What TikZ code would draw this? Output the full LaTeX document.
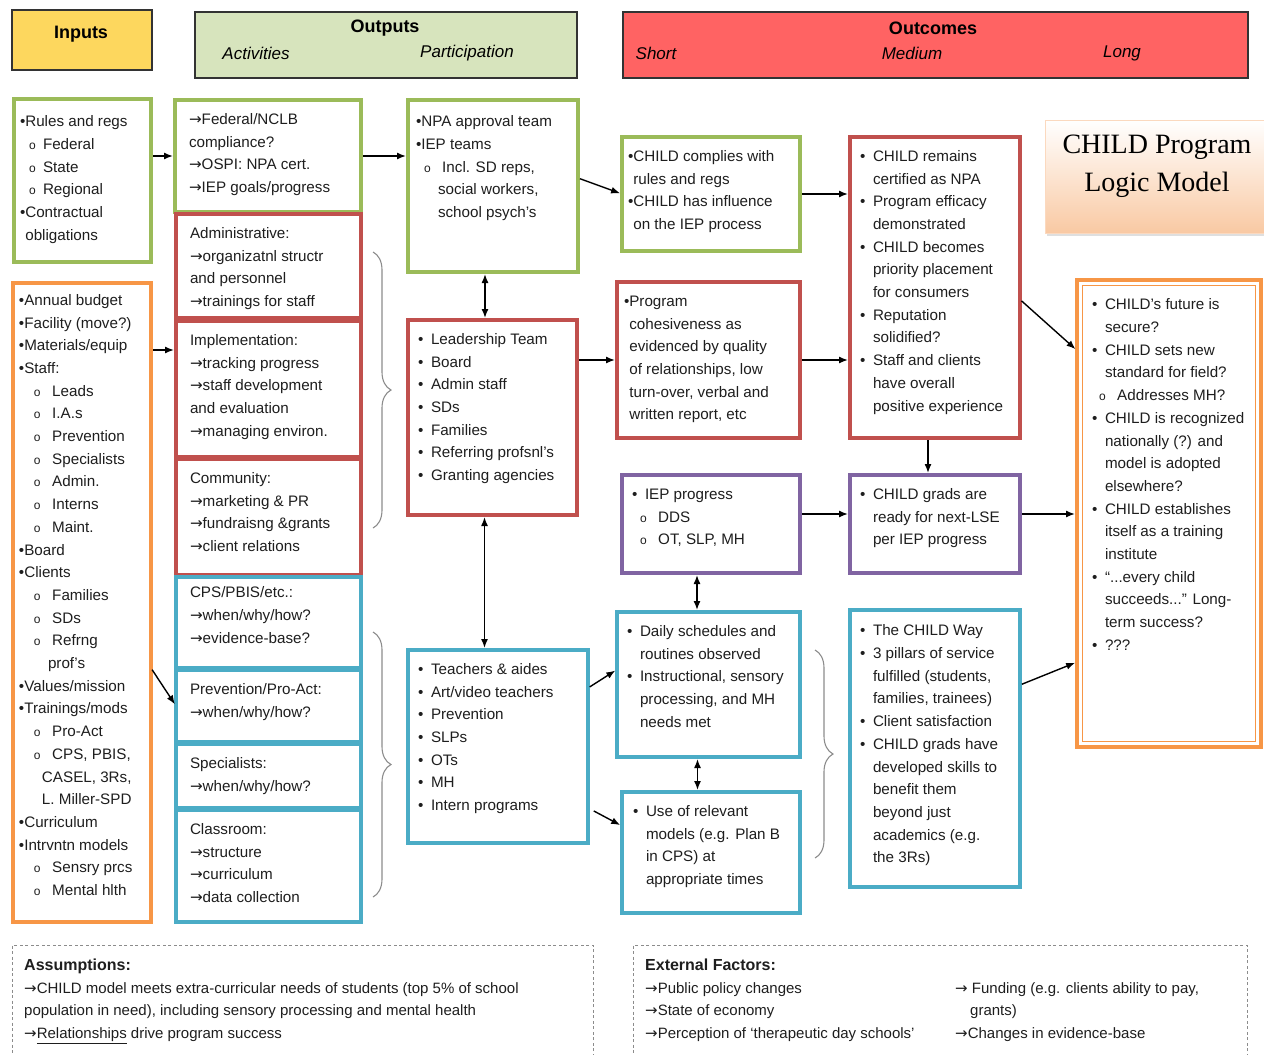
\documentclass[tikz,border=0pt]{standalone}
\usepackage{fontspec}
\setmainfont{Liberation Sans}
\newfontfamily\lmserif{Liberation Serif}
\newfontfamily\lmsym{DejaVu Sans}
\usetikzlibrary{arrows.meta,calc,decorations.pathreplacing,shadows}
\tikzset{>={Latex[width=7pt,length=9pt]}}

\definecolor{lmyellow}{HTML}{FDD75E}
\definecolor{lmlime}{HTML}{D7E4BD}
\definecolor{lmcoral}{HTML}{FF6363}
\definecolor{lmgreen}{HTML}{9BBB59}
\definecolor{lmred}{HTML}{C0504D}
\definecolor{lmblue}{HTML}{4BACC6}
\definecolor{lmpurple}{HTML}{8064A2}
\definecolor{lmorange}{HTML}{F79646}
\definecolor{lmpeach}{HTML}{F9C9A3}
\definecolor{lmtext}{HTML}{1E1E1E}

\newcommand\lmfont{\fontsize{15.2}{22.7}\selectfont}
\newcommand\lmcell[4][0pt]{\parbox[t][#3][t]{#2}{\raggedright\leftskip=#1\relax\strut#4}}
\newcommand\lmitem{\makebox[13pt][l]{•}}
\newcommand\lmcont{\hspace*{13pt}}
\newcommand\lmsub[1][9pt]{\hspace*{#1}\makebox[14pt][l]{\fontsize{12}{12}\selectfont o}}
\newcommand\lmbc{\phantom{•}}
\newcommand\lmra{{\lmsym →}}

\tikzset{
  hdbox/.style={draw=black!80, line width=1.6pt, anchor=north west, inner sep=0pt, outer sep=0pt},
  hdbf/.style={font=\fontsize{18}{20}\selectfont\bfseries},
  hdit/.style={font=\fontsize{17}{20}\selectfont\itshape},
  lmbox/.style={draw=#1, line width=4.5pt, fill=white, anchor=north west, inner xsep=6pt,
    inner ysep=8.5pt, outer sep=0pt, text=lmtext, font=\lmfont},
  link/.style={->, line width=1.4pt, shorten <=2pt, shorten >=2pt},
  dlink/.style={<->, line width=1.4pt, shorten <=2pt, shorten >=2pt},
  grpbrace/.style={decorate, decoration={brace, amplitude=18pt}, draw=black!45, line width=1.1pt},
  dashbox/.style={draw=black!45, dash pattern=on 3pt off 2.5pt, line width=0.9pt, anchor=north west, outer sep=0pt},
  bottxt/.style={anchor=north west, inner sep=0pt, align=left, text=lmtext, font=\fontsize{15}{22.5}\selectfont},
}

\begin{document}
\begin{tikzpicture}[x=1pt, y=-1pt]
  \useasboundingbox (0,0) rectangle (1264,1055);

  % header row
  \node[hdbox, fill=lmyellow, minimum width=140pt, minimum height=60pt] (hdIn) at (12,10) {};
  \node[hdbox, fill=lmlime, minimum width=382pt, minimum height=66pt] (hdOut) at (195,12) {};
  \node[hdbox, fill=lmcoral, minimum width=625pt, minimum height=66pt] (hdOc) at (623,12) {};
  \node[hdbf] (tIn) at (81,34) {Inputs};
  \node[hdbf] (tOut) at (385,28) {Outputs};
  \node[hdit] (tAct) at (256,53) {Activities};
  \node[hdit] (tPart) at (467,53) {Participation};
  \node[hdbf] (tOc) at (933,28) {Outcomes};
  \node[hdit] (tShort) at (656,53) {Short};
  \node[hdit] (tMed) at (912,53) {Medium};
  \node[hdit] (tLong) at (1122,53) {Long};

  % title
  \node[anchor=north west, top color=white, bottom color=lmpeach, draw=lmpeach!70, line width=0.6pt,
    minimum width=221pt, minimum height=113pt, outer sep=0pt,
    drop shadow={opacity=0.25, shadow xshift=2pt, shadow yshift=-3pt}] (titleBox) at (1045,120) {};
  \node[font=\lmserif\fontsize{28}{38}\selectfont, align=center] (titleTxt) at (1157,166) {CHILD Program\\Logic Model};

  % inputs
  \node[lmbox=lmgreen, inner ysep=12pt] (inRules) at (14,99) {\lmcell{125pt}{139pt}{%
    •Rules and regs\\ \lmsub Federal\\ \lmsub State\\ \lmsub Regional\\
    •Contractual\\ \lmbc obligations}};
  \node[lmbox=lmorange, inner ysep=6.5pt] (inRes) at (13,283) {\lmcell{126pt}{626pt}{%
    •Annual budget\\ •Facility (move?)\\ •Materials/equip\\ •Staff:\\
    \lmsub[15pt] Leads\\ \lmsub[15pt] I.A.s\\ \lmsub[15pt] Prevention\\
    \lmsub[15pt] Specialists\\ \lmsub[15pt] Admin.\\ \lmsub[15pt] Interns\\
    \lmsub[15pt] Maint.\\ •Board\\ •Clients\\ \lmsub[15pt] Families\\
    \lmsub[15pt] SDs\\ \lmsub[15pt] Refrng\\ \hspace*{29pt}prof's\\
    •Values/mission\\ •Trainings/mods\\ \lmsub[15pt] Pro-Act\\
    \lmsub[15pt] CPS, PBIS,\\ \hspace*{23pt}CASEL, 3Rs,\\ \hspace*{23pt}L. Miller-SPD\\
    •Curriculum\\ •Intrvntn models\\ \lmsub[15pt] Sensry prcs\\ \lmsub[15pt] Mental hlth}};

  % activities
  \node[lmbox=lmgreen] (actFed) at (175,100) {\lmcell[8pt]{174pt}{95pt}{%
    \lmra Federal/NCLB\\ compliance?\\ \lmra OSPI: NPA cert.\\ \lmra IEP goals/progress}};
  \node[lmbox=lmred] (actAdmin) at (176,214) {\lmcell[8pt]{173pt}{87pt}{%
    Administrative:\\ \lmra organizatnl structr\\ and personnel\\ \lmra trainings for staff}};
  \node[lmbox=lmred] (actImpl) at (176,321) {\lmcell[8pt]{173pt}{119pt}{%
    Implementation:\\ \lmra tracking progress\\ \lmra staff development\\ and evaluation\\ \lmra managing environ.}};
  \node[lmbox=lmred] (actComm) at (176,459) {\lmcell[8pt]{173pt}{99pt}{%
    Community:\\ \lmra marketing \& PR\\ \lmra fundraisng \&grants\\ \lmra client relations}};
  \node[lmbox=lmblue, inner ysep=5pt] (actCPS) at (176,577) {\lmcell[8pt]{173pt}{81pt}{%
    CPS/PBIS/etc.:\\ \lmra when/why/how?\\ \lmra evidence-base?}};
  \node[lmbox=lmblue] (actPrev) at (176,670) {\lmcell[8pt]{173pt}{55pt}{%
    Prevention/Pro-Act:\\ \lmra when/why/how?}};
  \node[lmbox=lmblue] (actSpec) at (176,744) {\lmcell[8pt]{173pt}{47pt}{%
    Specialists:\\ \lmra when/why/how?}};
  \node[lmbox=lmblue] (actClass) at (176,810) {\lmcell[8pt]{173pt}{95pt}{%
    Classroom:\\ \lmra structure\\ \lmra curriculum\\ \lmra data collection}};

  % participation
  \node[lmbox=lmgreen, inner ysep=11pt] (partNPA) at (408,100) {\lmcell[2pt]{158pt}{150pt}{%
    •NPA approval team\\ •IEP teams\\ \lmsub[8pt] Incl. SD reps,\\
    \hspace*{22pt}social workers,\\ \hspace*{22pt}school psych's}};
  \node[lmbox=lmred] (partLead) at (408,320) {\lmcell[4pt]{157pt}{178pt}{%
    \lmitem Leadership Team\\ \lmitem Board\\ \lmitem Admin staff\\ \lmitem SDs\\
    \lmitem Families\\ \lmitem Referring profsnl's\\ \lmitem Granting agencies}};
  \node[lmbox=lmblue] (partTeach) at (408,650) {\lmcell[4pt]{168pt}{176pt}{%
    \lmitem Teachers \& aides\\ \lmitem Art/video teachers\\ \lmitem Prevention\\
    \lmitem SLPs\\ \lmitem OTs\\ \lmitem MH\\ \lmitem Intern programs}};

  % short-term outcomes
  \node[lmbox=lmgreen] (shComply) at (622,137) {\lmcell{166pt}{97pt}{%
    •CHILD complies with\\ \lmbc rules and regs\\ •CHILD has influence\\ \lmbc on the IEP process}};
  \node[lmbox=lmred] (shCohes) at (617,282) {\lmcell[1pt]{171pt}{139pt}{%
    •Program\\ \lmbc cohesiveness as\\ \lmbc evidenced by quality\\
    \lmbc of relationships, low\\ \lmbc turn-over, verbal and\\ \lmbc written report, etc}};
  \node[lmbox=lmpurple] (shIEP) at (622,475) {\lmcell[4pt]{166pt}{81pt}{%
    \lmitem IEP progress\\ \lmsub[8pt] DDS\\ \lmsub[8pt] OT, SLP, MH}};
  \node[lmbox=lmblue] (shDaily) at (617,612) {\lmcell[4pt]{171pt}{128pt}{%
    \lmitem Daily schedules and\\ \lmcont routines observed\\ \lmitem Instructional, sensory\\
    \lmcont processing, and MH\\ \lmcont needs met}};
  \node[lmbox=lmblue] (shUse) at (622,792) {\lmcell[5pt]{166pt}{104pt}{%
    \lmitem Use of relevant\\ \lmcont models (e.g. Plan B\\ \lmcont in CPS) at\\ \lmcont appropriate times}};

  % medium-term outcomes
  \node[lmbox=lmred] (mdCert) at (850,137) {\lmcell[4pt]{158pt}{284pt}{%
    \lmitem CHILD remains\\ \lmcont certified as NPA\\ \lmitem Program efficacy\\ \lmcont demonstrated\\
    \lmitem CHILD becomes\\ \lmcont priority placement\\ \lmcont for consumers\\
    \lmitem Reputation\\ \lmcont solidified?\\ \lmitem Staff and clients\\
    \lmcont have overall\\ \lmcont positive experience}};
  \node[lmbox=lmpurple] (mdGrads) at (850,475) {\lmcell[4pt]{158pt}{81pt}{%
    \lmitem CHILD grads are\\ \lmcont ready for next-LSE\\ \lmcont per IEP progress}};
  \node[lmbox=lmblue, inner ysep=10pt] (mdWay) at (850,610) {\lmcell[4pt]{158pt}{257pt}{%
    \lmitem The CHILD Way\\ \lmitem 3 pillars of service\\ \lmcont fulfilled (students,\\
    \lmcont families, trainees)\\ \lmitem Client satisfaction\\ \lmitem CHILD grads have\\
    \lmcont developed skills to\\ \lmcont benefit them\\ \lmcont beyond just\\
    \lmcont academics (e.g.\\ \lmcont the 3Rs)}};

  % long-term outcomes
  \node[lmbox=lmorange, inner ysep=14pt] (lgFuture) at (1077,280) {\lmcell[9pt]{172pt}{439pt}{%
    \lmitem CHILD's future is\\ \lmcont secure?\\ \lmitem CHILD sets new\\ \lmcont standard for field?\\
    \lmsub[7pt] Addresses MH?\\ \lmitem CHILD is recognized\\ \lmcont nationally (?) and\\
    \lmcont model is adopted\\ \lmcont elsewhere?\\ \lmitem CHILD establishes\\
    \lmcont itself as a training\\ \lmcont institute\\ \lmitem ``...every child\\
    \lmcont succeeds...'' Long-\\ \lmcont term success?\\ \lmitem ???}};
  \draw[lmorange, line width=1.2pt] ($(lgFuture.north west)+(5.5,5.5)$) rectangle ($(lgFuture.south east)+(-5.5,-5.5)$);

  % connectors
  \draw[link] (inRules.east |- actFed.west) -- (actFed.west); %% rules -> federal
  \draw[link] ($(inRes.north east)+(0,67)$) -- ($(actImpl.north west)+(0,29)$); %% resources -> implementation
  \draw[link] ($(inRes.north east)+(0,385)$) -- (actPrev.west); %% resources -> prevention
  \draw[link] (actFed.east) -- (actFed.east -| partNPA.west); %% federal -> NPA
  \draw[link] ([yshift=8pt]partNPA.east) -- (shComply.west); %% NPA -> complies
  \draw[link] (shComply.east) -- (shComply.east -| mdCert.west); %% complies -> remains
  \draw[dlink] ([xshift=-8pt]partNPA.south) -- ([xshift=-8pt]partNPA.south |- partLead.north); %% NPA <-> leadership
  \draw[link] (partLead.east |- shCohes.west) -- (shCohes.west); %% leadership -> cohesiveness
  \draw[link] (shCohes.east) -- (shCohes.east -| mdCert.west); %% cohesiveness -> remains
  \draw[link] ([yshift=-12pt]mdCert.east) -- ([yshift=163pt]lgFuture.west); %% remains -> future
  \draw[link] ([xshift=-7pt]mdCert.south) -- ([xshift=-7pt]mdGrads.north); %% remains -> grads
  \draw[link] ([yshift=10pt]shIEP.east) -- ([yshift=10pt]shIEP.east -| mdGrads.west); %% IEP -> grads
  \draw[link] ([yshift=10pt]mdGrads.east) -- ([yshift=10pt]mdGrads.east -| lgFuture.west); %% grads -> future
  \draw[dlink] ([xshift=-8pt]partLead.south) -- ([xshift=-8pt]partLead.south |- partTeach.north); %% leadership <-> teachers
  \draw[dlink] ([xshift=-14pt]shIEP.south) -- ([xshift=-14pt]shIEP.south |- shDaily.north); %% IEP <-> daily
  \draw[dlink] ([xshift=-11pt]shDaily.south) -- ([xshift=-11pt]shDaily.south |- shUse.north); %% daily <-> models
  \draw[link] ($(partTeach.north east)+(0,38)$) -- ($(shDaily.west)+(0,-15)$); %% teachers -> daily
  \draw[link] ($(partTeach.north east)+(4,160)$) -- ($(shUse.north west)+(0,34)$); %% teachers -> models
  \draw[link] ($(mdWay.north east)+(0,75)$) -- ($(lgFuture.south west)+(0,-85)$); %% way -> future

  % braces
  \draw[grpbrace] ($(actAdmin.north east)+(12,38)$) -- ($(actComm.south east)+(12,-47)$);
  \draw[grpbrace] ($(actCPS.north east)+(12,55)$) -- ($(actClass.south east)+(12,-25)$);
  \draw[grpbrace] ($(shDaily.north east)+(15,38)$) -- ($(shUse.south east)+(15,-55)$);

  % assumptions and external factors
  \node[dashbox, minimum width=581pt, minimum height=130pt] (asmBox) at (12,945) {};
  \node[dashbox, minimum width=614pt, minimum height=130pt] (extBox) at (633,945) {};
  \node[bottxt] (asmTxt) at (24,954.75) {\strut\textbf{\fontsize{16}{22.5}\selectfont Assumptions:}\\
    \lmra CHILD model meets extra-curricular needs of students (top 5\% of school\\
    population in need), including sensory processing and mental health\\
    \lmra\underline{Relationships} drive program success};
  \node[bottxt] (extTxt) at (645,954.75) {\strut\textbf{\fontsize{16}{22.5}\selectfont External Factors:}\\
    \lmra Public policy changes\\ \lmra State of economy\\ \lmra Perception of `therapeutic day schools'};
  \node[bottxt] (extTxtB) at (955,977.25) {\strut\lmra\ Funding (e.g. clients ability to pay,\\
    \hspace*{15pt}grants)\\ \lmra Changes in evidence-base};

\end{tikzpicture}
\end{document}
